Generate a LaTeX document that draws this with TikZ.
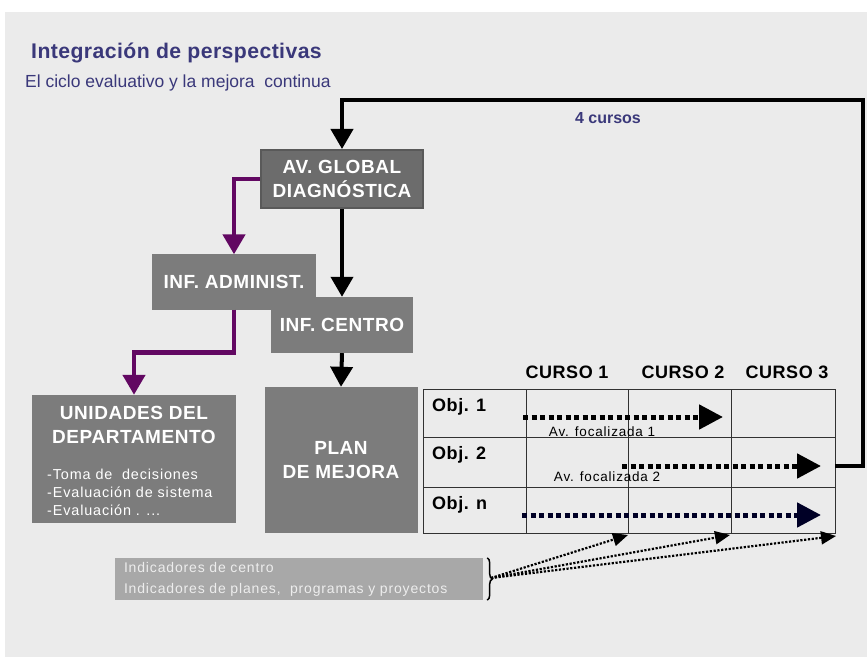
\documentclass[tikz,border=0pt]{standalone}
\usepackage{fontspec}
\setmainfont{Liberation Sans}
\newfontfamily\widefont{Liberation Sans}[LetterSpace=3]
\newfontfamily\headfont{Liberation Sans}[LetterSpace=2]
\newfontfamily\thinfont{Liberation Sans}[LetterSpace=6]
\usepackage{xcolor}
\definecolor{panelgrey}{RGB}{235,235,235}
\definecolor{boxgrey}{RGB}{124,124,124}
\definecolor{darkgrey}{RGB}{108,108,108}
\definecolor{lightgrey}{RGB}{168,168,168}
\definecolor{titleblue}{RGB}{58,56,122}
\definecolor{plum}{RGB}{98,8,98}
\definecolor{gridline}{RGB}{50,50,50}
\usepackage{tikz}
\usetikzlibrary{arrows.meta,decorations.pathreplacing}
\tikzstyle{headline} = [anchor=west, inner sep=0pt, text=titleblue,
  font=\headfont\bfseries\fontsize{21.2}{24}\selectfont]
\tikzstyle{subline} = [anchor=west, inner sep=0pt, text=titleblue,
  font=\fontsize{17.5}{20}\selectfont]
\tikzstyle{box} = [fill=boxgrey, text=white, align=center, inner sep=0pt,
  font=\widefont\bfseries\fontsize{19}{23.5}\selectfont]
\tikzstyle{darkbox} = [box, fill=darkgrey, draw=black!65, line width=2pt]
\tikzstyle{boxlist} = [anchor=north west, align=left, inner sep=0pt, text=white,
  font=\thinfont\fontsize{14.4}{18}\selectfont]
\tikzstyle{indbox} = [fill=lightgrey, text=white!93!black, align=left,
  minimum width=368pt, minimum height=42pt, text width=350pt, inner xsep=9pt,
  font=\thinfont\fontsize{14}{21}\selectfont]
\tikzstyle{colhead} = [inner sep=0pt, font=\widefont\bfseries\fontsize{18}{20}\selectfont]
\tikzstyle{rowhead} = [anchor=west, inner sep=0pt, font=\widefont\bfseries\fontsize{18}{20}\selectfont]
\tikzstyle{note} = [inner sep=0pt, font=\thinfont\fontsize{13.5}{15}\selectfont]
\tikzstyle{grid} = [draw=gridline, line width=1pt]
\tikzstyle{flow} = [draw, line width=4pt, -{Triangle[length=20pt,width=22pt]}]
\tikzstyle{pflow} = [flow, color=plum, line width=4.5pt]
\tikzstyle{focus} = [draw, line width=5pt, dash pattern=on 5pt off 3.5pt,
  -{Triangle[length=24pt,width=24pt]}]
\tikzstyle{hint} = [draw, line width=2.2pt, dash pattern=on 2.2pt off 1.6pt,
  -{Triangle[length=15pt,width=13pt]}]

\begin{document}
\begin{tikzpicture}[x=1pt, y=-1pt]
  \useasboundingbox (0,0) rectangle (867,660);
  \fill[panelgrey] (5,12) rectangle (867,657);

  \node[headline] (ttl) at (31,53) {Integración de perspectivas};
  \node[subline] (sub) at (25,83) {El ciclo evaluativo y la mejora\ \ continua};

  % boxes of the cycle
  \node[darkbox, minimum width=162pt, minimum height=58pt] (avg) at (342,179)
    {AV. GLOBAL\\DIAGNÓSTICA};
  \node[box, minimum width=164pt, minimum height=55pt] (adm) at (234,282) {INF. ADMINIST.};
  \node[box, minimum width=142pt, minimum height=56pt] (cen) at (342,325) {INF. CENTRO};
  \node[box, minimum width=204pt, minimum height=128pt] (uni) at (134,459) {};
  \node[box, fill=none] (unihead) at (134,425) {UNIDADES DEL\\DEPARTAMENTO};
  \node[boxlist] (unilist) at (47,469)
    {-Toma de\ \ decisiones\\-Evaluación de sistema\\-Evaluación . ...};
  \node[box, minimum width=153pt, minimum height=146pt] (plan) at (341,460)
    {PLAN\\DE MEJORA};
  \node[indbox] (ind) at (299,579)
    {Indicadores de centro\\Indicadores de planes,\ \ programas y proyectos};

  % table of objectives
  \draw[grid] (423,389) rectangle (835,533);
  \foreach \cx in {526,628,731} \draw[grid] (\cx,389) -- (\cx,533);
  \foreach \ry in {437,487} \draw[grid] (423,\ry) -- (835,\ry);
  \node[colhead] (c1) at (567,372) {CURSO 1};
  \node[colhead] (c2) at (683,372) {CURSO 2};
  \node[colhead] (c3) at (787,372) {CURSO 3};
  \node[rowhead] (o1) at (432,407) {Obj. 1};
  \node[rowhead] (o2) at (432,455) {Obj. 2};
  \node[rowhead] (on) at (432,505) {Obj. n};

  \coordinate (f1a) at (523,417);
  \coordinate (f1b) at (723,417);
  \coordinate (f2a) at (622,466);
  \coordinate (f2b) at (821,466);
  \coordinate (fna) at (522,515);
  \coordinate (fnb) at (821,515);
  \draw[focus] (f1a) -- (f1b);
  \draw[focus] (f2a) -- (f2b);
  \draw[focus, color=black!85!blue] (fna) -- (fnb);
  \node[note] (n1) at (602,432) {Av. focalizada 1};
  \node[note] (n2) at (607,477) {Av. focalizada 2};

  % indicators
  \draw[line width=1.5pt, decorate, decoration={brace, amplitude=5pt}]
    ([xshift=4pt]ind.north east) -- ([xshift=4pt]ind.south east);
  \coordinate (bt) at (491,578);
  \coordinate (h1) at (628,535);
  \coordinate (h2) at (730,535);
  \coordinate (h3) at (836,536);
  \foreach \t in {h1,h2,h3} \draw[hint] (bt) -- (\t);

  % arrows
  \draw[flow] (avg.south) -- (cen.north);
  \draw[flow] (cen.south) -- (plan.north);
  \draw[pflow] (avg.west) -| (adm.north);
  \draw[pflow] (adm.south) -- ++(0,43) -| (uni.north);

  \coordinate (ret) at (835,466);
  \draw[flow] (ret) -| (863,100) -| (avg.north);
  \node[font=\bfseries\fontsize{16}{18}\selectfont, text=titleblue]
    (yrs) at (608,118) {4 cursos};
\end{tikzpicture}
\end{document}
